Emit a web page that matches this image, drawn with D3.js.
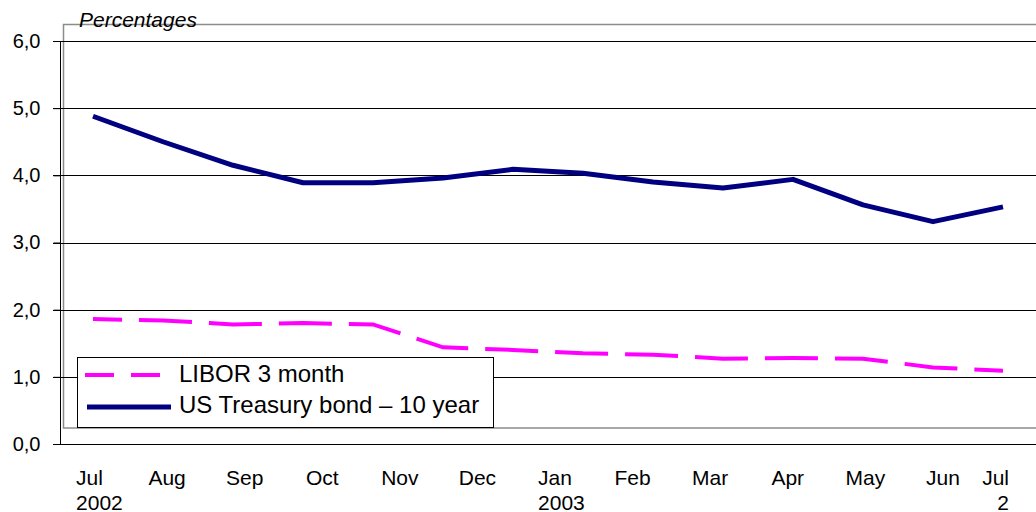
<!DOCTYPE html>
<html><head><meta charset="utf-8">
<script src="https://cdn.jsdelivr.net/npm/d3@7"></script>
<style>
html,body{margin:0;padding:0;background:#fff;}
svg{display:block;font-family:"Liberation Sans",Arial,sans-serif;}
</style></head>
<body><svg id="chart" width="1036" height="512"></svg>
<script>
// Observations (14 evenly spaced points, Jul 2002 – Jul 2003)
const obsIndex = [0,1,2,3,4,5,6,7,8,9,10,11,12,13];
const libor3m   = [1.86,1.84,1.78,1.80,1.78,1.44,1.40,1.35,1.33,1.27,1.28,1.27,1.14,1.09];
const treasury10 = [4.88,4.50,4.15,3.89,3.89,3.96,4.09,4.03,3.90,3.81,3.94,3.56,3.31,3.53];
const monthLabels = ["Jul","Aug","Sep","Oct","Nov","Dec","Jan","Feb","Mar","Apr","May","Jun","Jul"];
const yearLabels  = ["2002","","","","","","2003","","","","","","2"];
const yTicks = [0,1,2,3,4,5,6];
const seriesNames = ["LIBOR 3 month","US Treasury bond \u2013 10 year"];

const svg = d3.select("#chart");
const W = 1036, H = 512;
const x = d3.scaleLinear().domain([0,13]).range([93,1003]);
const xm = d3.scaleLinear().domain([0,12]).range([89.5,1020.5]);
const y = d3.scaleLinear().domain([0,6]).range([444,41]);
const fmt = v => d3.format(".1f")(v).replace(".", ",");

// gray frame
svg.append("rect").attr("x",63.5).attr("y",24.5).attr("width",1000).attr("height",403.5)
  .attr("fill","none").attr("stroke","#8c8c8c").attr("stroke-width",1.5);

// gridlines
svg.append("g").selectAll("line").data(yTicks.filter(d=>d>0)).join("line")
  .attr("x1",53).attr("x2",W).attr("y1",d=>Math.round(y(d))+0.5).attr("y2",d=>Math.round(y(d))+0.5)
  .attr("stroke","#000").attr("stroke-width",1);

// y axis
const yAxis = d3.axisLeft(y).tickValues(yTicks).tickSize(7).tickPadding(13).tickFormat(fmt);
const ga = svg.append("g").attr("transform","translate(60.5,0)").call(yAxis);
ga.select(".domain").remove();
ga.selectAll(".tick line").attr("stroke","#000");
ga.selectAll(".tick text").attr("font-size",20).attr("fill","#000")
  .attr("font-family","Liberation Sans, Arial, sans-serif");
svg.append("line").attr("x1",60.5).attr("x2",60.5).attr("y1",y(6)).attr("y2",y(0)).attr("stroke","#000");
svg.append("line").attr("x1",53).attr("x2",W).attr("y1",Math.round(y(0))+0.5).attr("y2",Math.round(y(0))+0.5).attr("stroke","#000");

// title
svg.append("text").attr("x",79).attr("y",27).attr("font-size",21).attr("font-style","italic")
  .attr("fill","#000").text("Percentages");

// lines
const line = d3.line().x((d,i)=>x(obsIndex[i])).y(d=>y(d));
svg.append("path").datum(libor3m).attr("d",line).attr("fill","none")
  .attr("stroke","#ff00ff").attr("stroke-width",4).attr("stroke-dasharray","53,17").attr("stroke-dashoffset",24);
svg.append("path").datum(treasury10).attr("d",line).attr("fill","none")
  .attr("stroke","#000080").attr("stroke-width",5).attr("stroke-linejoin","round");

// x labels
const gx = svg.append("g").attr("font-size",21).attr("fill","#000");
const rightLimit = 1009;
monthLabels.forEach((m,i)=>{
  const cx = xm(i);
  const t = gx.append("text").attr("y",485).text(m);
  const w = t.node().getComputedTextLength();
  const last = i === monthLabels.length-1;
  let left = cx - w/2;
  if (left + w > rightLimit) left = rightLimit - w;
  t.attr("x", left);
  if (yearLabels[i]) {
    if (last) {
      gx.append("text").attr("x",left+w).attr("y",510).attr("text-anchor","end").text(yearLabels[i]);
    } else {
      gx.append("text").attr("x",left).attr("y",510).text(yearLabels[i]);
    }
  }
});

// legend
const lg = svg.append("g");
lg.append("rect").attr("x",77.5).attr("y",357.5).attr("width",416).attr("height",70)
  .attr("fill","#fff").attr("stroke","#000").attr("stroke-width",1);
lg.append("line").attr("x1",85).attr("x2",161).attr("y1",375).attr("y2",375)
  .attr("stroke","#ff00ff").attr("stroke-width",4).attr("stroke-dasharray","29,17");
lg.append("line").attr("x1",87).attr("x2",171).attr("y1",407).attr("y2",407)
  .attr("stroke","#000080").attr("stroke-width",5);
lg.append("text").attr("x",179).attr("y",382).attr("font-size",24).attr("fill","#000").text(seriesNames[0]);
lg.append("text").attr("x",179).attr("y",413).attr("font-size",24).attr("fill","#000").text(seriesNames[1]);
</script></body></html>
